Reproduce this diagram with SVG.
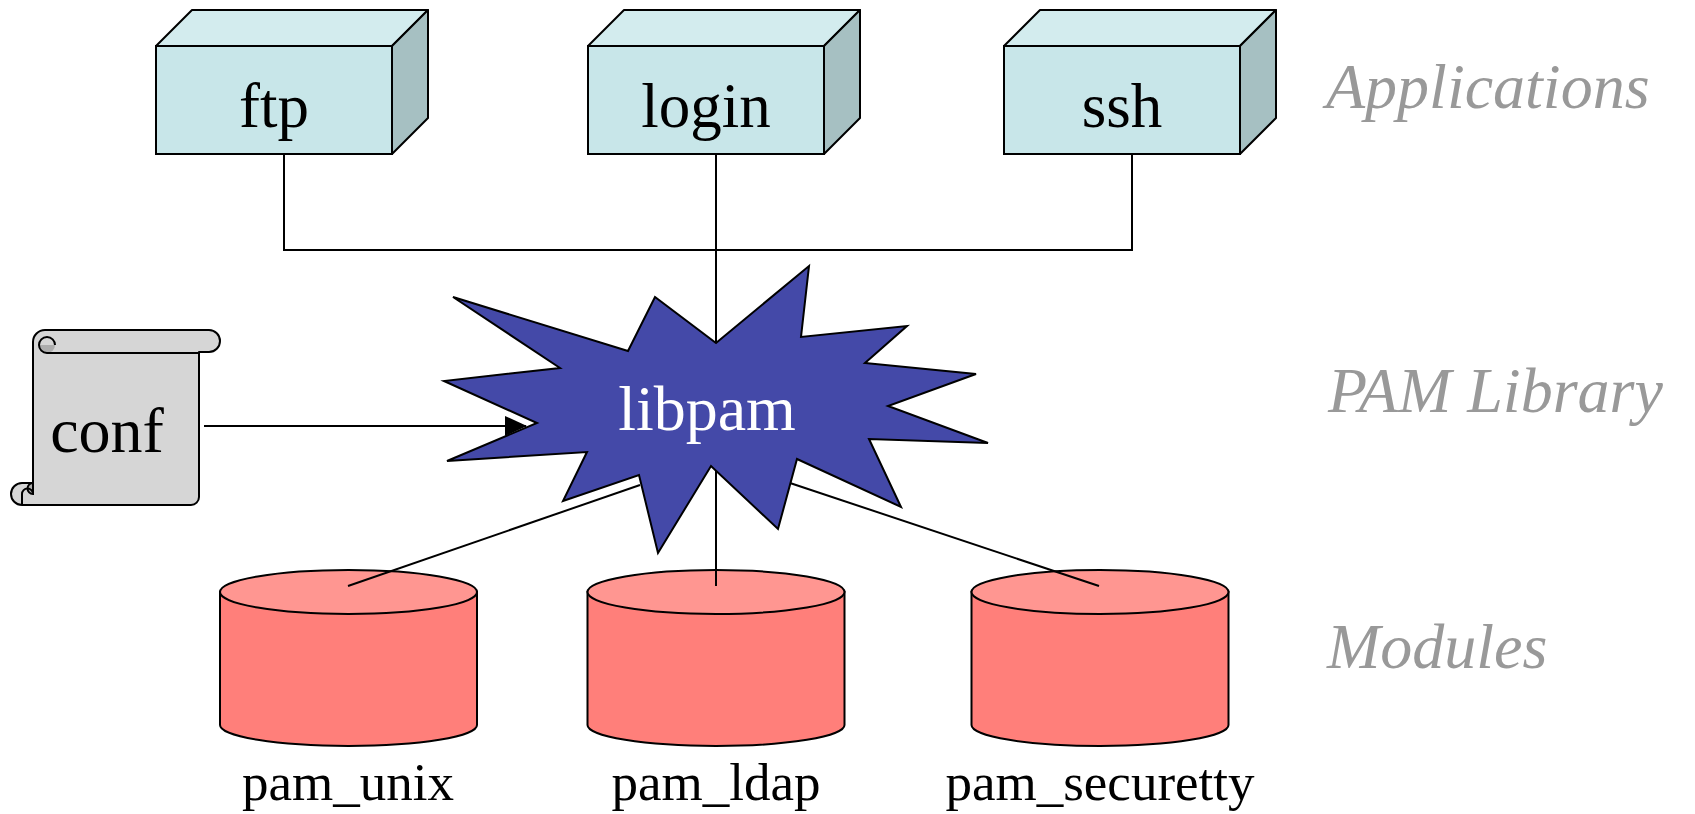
<svg xmlns="http://www.w3.org/2000/svg" width="1695" height="814" viewBox="0 0 1695 814">
<style>
.ln{fill:none;stroke:#000;stroke-width:2}
.front{fill:#C8E6E9;stroke:#000;stroke-width:2}
.top{fill:#D3ECEE;stroke:#000;stroke-width:2;stroke-linejoin:round}
.side{fill:#A6C0C2;stroke:#000;stroke-width:2;stroke-linejoin:round}
.cylside{fill:#FF7F7A;stroke:#000;stroke-width:2}
.cyltop{fill:#FF9691;stroke:#000;stroke-width:2}
.lbl{font-family:"Liberation Serif","Times New Roman",serif;fill:#000;text-anchor:middle}
.layer{font-family:"Liberation Serif","Times New Roman",serif;font-style:italic;font-size:64px;fill:#999}
</style>
<defs>
<marker id="arr" markerWidth="22" markerHeight="20" refX="21" refY="10" orient="auto" markerUnits="userSpaceOnUse">
<path d="M0,0 L22,10 L0,20 Z" fill="#000"/>
</marker>
<g id="box">
<polygon class="top" points="0,36 36,0 272,0 236,36"/>
<polygon class="side" points="236,36 272,0 272,108 236,144"/>
<rect class="front" x="0" y="36" width="236" height="108"/>
</g>
<g id="cyl">
<path class="cylside" d="M0,0 V133 A128.5,21 0 0 0 257,133 V0 Z"/>
<ellipse class="cyltop" cx="128.5" cy="0" rx="128.5" ry="22"/>
</g>
</defs>
<g id="pam_unix">
<use href="#cyl" x="220" y="592"/>
<text class="lbl" x="348" y="800" font-size="53">pam_unix</text>
</g>
<g id="pam_ldap">
<use href="#cyl" x="587.5" y="592"/>
<text class="lbl" x="716" y="800" font-size="53">pam_ldap</text>
</g>
<g id="pam_securetty">
<use href="#cyl" x="971.5" y="592"/>
<text class="lbl" x="1100" y="800" font-size="53">pam_securetty</text>
</g>
<g id="connectors">
<path class="ln" d="M284,154 V250 H1132 V154"/>
<path class="ln" d="M716,154 V586"/>
<path class="ln" d="M348,586 L640,485"/>
<path class="ln" d="M1099,586 L790,483"/>
<path class="ln" d="M204,426 H526" marker-end="url(#arr)"/>
</g>
<g id="ftp">
<use href="#box" x="156" y="10"/>
<text class="lbl" x="274" y="127" font-size="63">ftp</text>
</g>
<g id="login">
<use href="#box" x="588" y="10"/>
<text class="lbl" x="706" y="127" font-size="63">login</text>
</g>
<g id="ssh">
<use href="#box" x="1004" y="10"/>
<text class="lbl" x="1122" y="127" font-size="63">ssh</text>
</g>
<g id="conf">
<path d="M45,330 H209 A11,11 0 0 1 209,352 H199 V497 A8,8 0 0 1 191,505 H22 A11,11 0 0 1 22,483 H33 V342 A12,12 0 0 1 45,330 Z" fill="#D6D6D6" stroke="#000" stroke-width="2" stroke-linejoin="round"/>
<path d="M39,345 A8,8 0 0 0 55,345 Z" fill="#ADADAD"/>
<path class="ln" d="M47,353 A8,8 0 1 1 55,345 M47,353 H199"/>
<path d="M33,483 A5.5,5.5 0 0 0 33,494 Z" fill="#ADADAD" stroke="#000" stroke-width="2"/>
<path class="ln" d="M22,505 V494 A5.5,5.5 0 0 1 33,494"/>
<text class="lbl" x="107" y="452" font-size="64">conf</text>
</g>
<g id="libpam">
<polygon points="453,297 628,351 655,297 716,343 809,266 801,337 907,326 865,363 976,374 888,406 988,443 869,439 901,507 797,459 778,529 711,466 658,553 639,475 563,501 587,452 447,461 537,423 444,381 560,368" fill="#4449A8" stroke="#000" stroke-width="2" stroke-linejoin="miter"/>
<text class="lbl" x="707" y="430" font-size="64" style="fill:#fff">libpam</text>
</g>
<g id="layers">
<text class="layer" x="1326" y="108">Applications</text>
<text class="layer" x="1328" y="412">PAM Library</text>
<text class="layer" x="1327" y="668">Modules</text>
</g>
</svg>
